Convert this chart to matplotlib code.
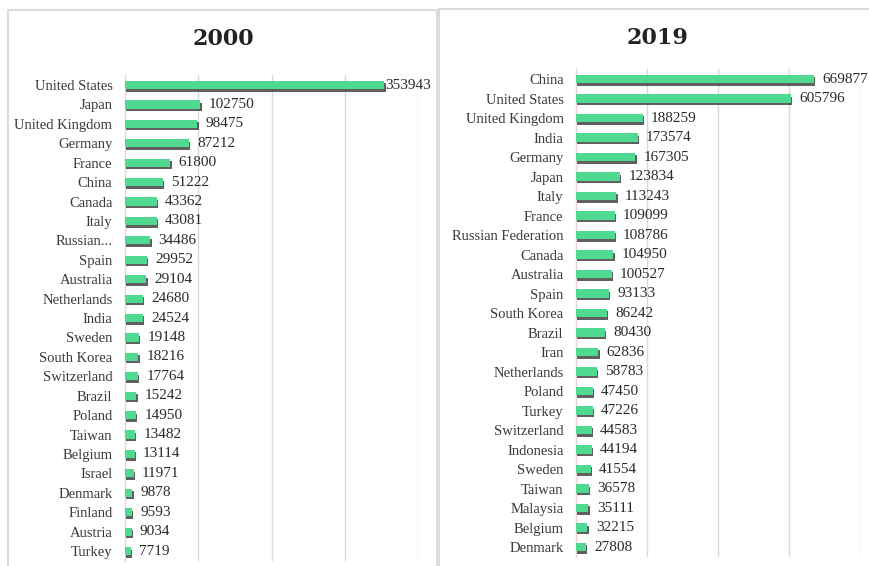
import matplotlib
matplotlib.use("Agg")
import matplotlib.pyplot as plt
import matplotlib.patheffects as pe
from matplotlib.patches import Rectangle

# Data ---------------------------------------------------------------
countries_2000 = ["United States", "Japan", "United Kingdom", "Germany", "France",
                  "China", "Canada", "Italy", "Russian...", "Spain", "Australia",
                  "Netherlands", "India", "Sweden", "South Korea", "Switzerland",
                  "Brazil", "Poland", "Taiwan", "Belgium", "Israel", "Denmark",
                  "Finland", "Austria", "Turkey"]
values_2000 = [353943, 102750, 98475, 87212, 61800, 51222, 43362, 43081, 34486,
               29952, 29104, 24680, 24524, 19148, 18216, 17764, 15242, 14950,
               13482, 13114, 11971, 9878, 9593, 9034, 7719]

countries_2019 = ["China", "United States", "United Kingdom", "India", "Germany",
                  "Japan", "Italy", "France", "Russian Federation", "Canada",
                  "Australia", "Spain", "South Korea", "Brazil", "Iran",
                  "Netherlands", "Poland", "Turkey", "Switzerland", "Indonesia",
                  "Sweden", "Taiwan", "Malaysia", "Belgium", "Denmark"]
values_2019 = [669877, 605796, 188259, 173574, 167305, 123834, 113243, 109099,
               108786, 104950, 100527, 93133, 86242, 80430, 62836, 58783, 47450,
               47226, 44583, 44194, 41554, 36578, 35111, 32215, 27808]

W, H = 869, 566
FONT = "Liberation Serif"
TITLE_FONT = "DejaVu Serif"
BAR_GREEN = "#4fd991"
GRID = "#d9d9d9"
LABEL_COLOR = "#3a3a3a"

fig = plt.figure(figsize=(W / 100, H / 100), dpi=100)
fig.patch.set_facecolor("white")


def px_box(x0, y0, x1, y1):
    """Convert a pixel box (top-left origin) to figure fraction [l, b, w, h]."""
    return [x0 / W, 1 - y1 / H, (x1 - x0) / W, (y1 - y0) / H]


def draw_panel(rect, names, vals, xmax, step, title, title_xy, top_pad):
    ax = fig.add_axes(rect)
    n = len(names)
    pos = list(range(n))
    bars = ax.barh(pos, vals, height=0.42, color=BAR_GREEN, zorder=3)
    for b in bars:
        b.set_path_effects([
            pe.SimplePatchShadow(offset=(1.0, -1.8), shadow_rgbFace="#2b2b2b", alpha=0.75),
            pe.Normal(),
        ])
    ax.set_xlim(0, xmax)
    ax.set_ylim(n - 0.5, -0.5)
    ax.set_xticks(range(step, xmax + 1, step))
    ax.set_xticklabels([])
    ax.tick_params(axis="x", length=0)
    ax.grid(axis="x", color=GRID, linewidth=1.0, zorder=0)
    ax.set_yticks(pos)
    ax.set_yticklabels(names, fontfamily=FONT, fontsize=10.5, color=LABEL_COLOR)
    ax.tick_params(axis="y", length=0, pad=9)
    for side in ("top", "right", "bottom"):
        ax.spines[side].set_visible(False)
    ax.spines["left"].set_color("#ecd2d2")
    ax.spines["left"].set_linewidth(1.0)
    ax.set_facecolor("none")
    vmax = max(vals)
    for p, v in zip(pos, vals):
        pad = top_pad if v == vmax else 6
        ax.annotate(str(v), xy=(v, p), xytext=(pad, 0), textcoords="offset points",
                    ha="left", va="center", fontfamily=FONT, fontsize=11,
                    color="#2a2a2a", clip_on=False, zorder=4)
    fig.text(title_xy[0] / W, 1 - title_xy[1] / H, title, ha="center", va="center",
             fontfamily=TITLE_FONT, fontsize=16, fontweight="bold", color="#222222")
    return ax


# Panel frames
fig.patches.append(Rectangle((8 / W, -0.05), (437 - 8) / W, 1.05 - 10 / H,
                             transform=fig.transFigure, fill=False,
                             edgecolor="#d4d4d4", linewidth=1.2, zorder=0))
fig.patches.append(Rectangle((439 / W, -0.05), (880 - 439) / W, 1.05 - 9 / H,
                             transform=fig.transFigure, fill=False,
                             edgecolor="#d4d4d4", linewidth=1.2, zorder=0))

draw_panel(px_box(125, 75.3, 418, 560.8), countries_2000, values_2000,
           400000, 100000, "2000", (223, 39), 1.0)
draw_panel(px_box(576, 69.3, 860, 556.8), countries_2019, values_2019,
           800000, 200000, "2019", (657, 38), 6)

fig.savefig("out.png", dpi=100, facecolor="white")
